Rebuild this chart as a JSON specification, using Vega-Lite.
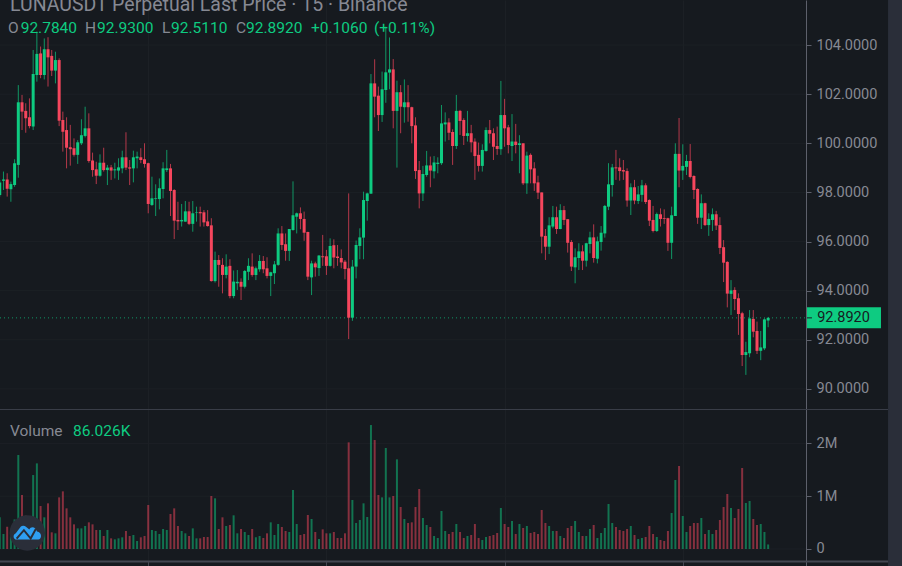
{
  "$schema": "https://vega.github.io/schema/vega-lite/v6.json",
  "width": 902,
  "height": 566,
  "autosize": {"type": "none"},
  "padding": 0,
  "background": "#161a1f",
  "config": {"view": {"stroke": null}, "font": "Roboto"},
  "datasets": {
    "candles": [
      {"i":0,"o":97.90,"h":98.51,"l":97.83,"c":98.40,"v":600000,"dir":"u"},
      {"i":1,"o":98.48,"h":98.85,"l":98.10,"c":98.53,"v":284000,"dir":"u"},
      {"i":2,"o":98.53,"h":98.78,"l":97.83,"c":98.15,"v":423000,"dir":"d"},
      {"i":3,"o":98.13,"h":98.44,"l":97.62,"c":98.34,"v":250000,"dir":"u"},
      {"i":4,"o":98.30,"h":99.35,"l":98.23,"c":99.19,"v":560000,"dir":"u"},
      {"i":5,"o":99.12,"h":102.37,"l":98.60,"c":101.67,"v":1780000,"dir":"u"},
      {"i":6,"o":101.67,"h":101.97,"l":100.54,"c":101.29,"v":1023000,"dir":"d"},
      {"i":7,"o":101.32,"h":101.63,"l":100.43,"c":101.02,"v":631000,"dir":"d"},
      {"i":8,"o":101.06,"h":101.83,"l":100.61,"c":100.70,"v":568000,"dir":"d"},
      {"i":9,"o":100.68,"h":103.80,"l":100.54,"c":102.82,"v":1401000,"dir":"u"},
      {"i":10,"o":102.78,"h":104.55,"l":102.51,"c":103.64,"v":1622000,"dir":"u"},
      {"i":11,"o":103.66,"h":103.94,"l":102.65,"c":102.78,"v":814000,"dir":"d"},
      {"i":12,"o":102.78,"h":104.27,"l":102.60,"c":103.83,"v":600000,"dir":"u"},
      {"i":13,"o":103.83,"h":104.32,"l":102.31,"c":103.50,"v":865000,"dir":"d"},
      {"i":14,"o":103.56,"h":103.80,"l":102.74,"c":102.96,"v":316000,"dir":"d"},
      {"i":15,"o":102.96,"h":103.73,"l":102.44,"c":103.39,"v":297000,"dir":"u"},
      {"i":16,"o":103.39,"h":103.46,"l":100.70,"c":100.92,"v":978000,"dir":"d"},
      {"i":17,"o":100.95,"h":101.29,"l":99.66,"c":100.47,"v":1092000,"dir":"d"},
      {"i":18,"o":100.54,"h":101.06,"l":98.98,"c":99.82,"v":770000,"dir":"d"},
      {"i":19,"o":99.84,"h":100.75,"l":99.09,"c":99.76,"v":600000,"dir":"d"},
      {"i":20,"o":99.80,"h":100.20,"l":99.46,"c":99.53,"v":467000,"dir":"d"},
      {"i":21,"o":99.53,"h":100.13,"l":99.16,"c":100.04,"v":391000,"dir":"u"},
      {"i":22,"o":100.00,"h":100.98,"l":99.93,"c":100.33,"v":391000,"dir":"u"},
      {"i":23,"o":100.30,"h":101.49,"l":100.24,"c":100.61,"v":436000,"dir":"u"},
      {"i":24,"o":100.61,"h":101.22,"l":99.21,"c":99.28,"v":505000,"dir":"d"},
      {"i":25,"o":99.30,"h":99.62,"l":98.64,"c":98.91,"v":467000,"dir":"d"},
      {"i":26,"o":98.94,"h":99.25,"l":98.34,"c":98.68,"v":360000,"dir":"d"},
      {"i":27,"o":98.68,"h":99.55,"l":98.64,"c":99.21,"v":360000,"dir":"u"},
      {"i":28,"o":99.21,"h":99.82,"l":98.85,"c":98.91,"v":246000,"dir":"d"},
      {"i":29,"o":98.91,"h":99.12,"l":98.30,"c":99.01,"v":360000,"dir":"u"},
      {"i":30,"o":99.02,"h":99.12,"l":98.51,"c":98.89,"v":202000,"dir":"d"},
      {"i":31,"o":98.90,"h":99.21,"l":98.57,"c":98.94,"v":183000,"dir":"u"},
      {"i":32,"o":98.89,"h":99.39,"l":98.51,"c":99.02,"v":202000,"dir":"u"},
      {"i":33,"o":98.98,"h":99.70,"l":98.78,"c":99.43,"v":221000,"dir":"u"},
      {"i":34,"o":99.43,"h":100.45,"l":98.91,"c":99.01,"v":341000,"dir":"d"},
      {"i":35,"o":99.02,"h":99.32,"l":98.30,"c":98.97,"v":246000,"dir":"d"},
      {"i":36,"o":98.98,"h":99.70,"l":98.41,"c":99.43,"v":265000,"dir":"u"},
      {"i":37,"o":99.39,"h":99.66,"l":98.98,"c":99.46,"v":152000,"dir":"u"},
      {"i":38,"o":99.43,"h":99.80,"l":99.19,"c":99.32,"v":221000,"dir":"d"},
      {"i":39,"o":99.35,"h":100.00,"l":99.01,"c":99.16,"v":246000,"dir":"d"},
      {"i":40,"o":99.19,"h":99.21,"l":97.15,"c":97.53,"v":833000,"dir":"d"},
      {"i":41,"o":97.49,"h":98.64,"l":97.45,"c":97.76,"v":360000,"dir":"u"},
      {"i":42,"o":97.73,"h":98.33,"l":97.04,"c":97.76,"v":341000,"dir":"u"},
      {"i":43,"o":97.73,"h":98.57,"l":97.31,"c":98.17,"v":284000,"dir":"u"},
      {"i":44,"o":98.14,"h":99.23,"l":97.76,"c":98.98,"v":379000,"dir":"u"},
      {"i":45,"o":98.91,"h":99.73,"l":98.83,"c":98.98,"v":360000,"dir":"u"},
      {"i":46,"o":98.98,"h":99.16,"l":97.04,"c":98.06,"v":663000,"dir":"d"},
      {"i":47,"o":98.10,"h":98.13,"l":96.10,"c":96.85,"v":770000,"dir":"d"},
      {"i":48,"o":96.88,"h":97.62,"l":96.47,"c":96.82,"v":436000,"dir":"d"},
      {"i":49,"o":96.82,"h":97.53,"l":96.61,"c":96.88,"v":341000,"dir":"u"},
      {"i":50,"o":96.81,"h":97.65,"l":96.81,"c":97.23,"v":297000,"dir":"u"},
      {"i":51,"o":97.23,"h":97.62,"l":96.67,"c":96.72,"v":246000,"dir":"d"},
      {"i":52,"o":96.72,"h":97.65,"l":96.40,"c":97.15,"v":391000,"dir":"u"},
      {"i":53,"o":97.18,"h":97.42,"l":96.81,"c":97.20,"v":202000,"dir":"u"},
      {"i":54,"o":97.20,"h":97.42,"l":96.61,"c":97.15,"v":202000,"dir":"d"},
      {"i":55,"o":97.19,"h":97.28,"l":96.61,"c":96.78,"v":227000,"dir":"d"},
      {"i":56,"o":96.82,"h":97.28,"l":96.61,"c":96.63,"v":227000,"dir":"d"},
      {"i":57,"o":96.66,"h":96.95,"l":94.37,"c":94.39,"v":1004000,"dir":"d"},
      {"i":58,"o":94.39,"h":95.59,"l":94.33,"c":95.25,"v":960000,"dir":"u"},
      {"i":59,"o":95.25,"h":95.45,"l":94.16,"c":95.05,"v":379000,"dir":"d"},
      {"i":60,"o":95.05,"h":95.32,"l":93.89,"c":94.64,"v":600000,"dir":"d"},
      {"i":61,"o":94.64,"h":95.48,"l":94.50,"c":94.98,"v":436000,"dir":"u"},
      {"i":62,"o":95.01,"h":95.28,"l":93.69,"c":93.78,"v":455000,"dir":"d"},
      {"i":63,"o":93.78,"h":94.82,"l":93.69,"c":94.37,"v":638000,"dir":"u"},
      {"i":64,"o":94.30,"h":94.84,"l":94.03,"c":94.36,"v":297000,"dir":"u"},
      {"i":65,"o":94.36,"h":94.50,"l":93.62,"c":94.16,"v":379000,"dir":"d"},
      {"i":66,"o":94.16,"h":94.84,"l":94.09,"c":94.80,"v":322000,"dir":"u"},
      {"i":67,"o":94.77,"h":95.32,"l":94.43,"c":95.01,"v":265000,"dir":"u"},
      {"i":68,"o":94.98,"h":95.52,"l":94.57,"c":94.64,"v":379000,"dir":"d"},
      {"i":69,"o":94.64,"h":94.98,"l":94.43,"c":94.91,"v":221000,"dir":"u"},
      {"i":70,"o":94.87,"h":95.45,"l":94.77,"c":95.21,"v":246000,"dir":"u"},
      {"i":71,"o":95.21,"h":95.41,"l":94.71,"c":94.87,"v":208000,"dir":"d"},
      {"i":72,"o":94.91,"h":95.36,"l":94.50,"c":94.60,"v":297000,"dir":"d"},
      {"i":73,"o":94.60,"h":94.77,"l":93.78,"c":94.75,"v":505000,"dir":"u"},
      {"i":74,"o":94.71,"h":95.21,"l":94.27,"c":95.07,"v":265000,"dir":"u"},
      {"i":75,"o":95.05,"h":96.54,"l":95.01,"c":96.33,"v":473000,"dir":"u"},
      {"i":76,"o":96.33,"h":96.63,"l":95.66,"c":95.86,"v":417000,"dir":"d"},
      {"i":77,"o":95.89,"h":96.33,"l":95.22,"c":95.62,"v":341000,"dir":"d"},
      {"i":78,"o":95.62,"h":96.51,"l":95.21,"c":96.51,"v":322000,"dir":"u"},
      {"i":79,"o":96.47,"h":98.45,"l":96.44,"c":97.07,"v":1117000,"dir":"u"},
      {"i":80,"o":97.01,"h":97.18,"l":96.33,"c":97.15,"v":473000,"dir":"u"},
      {"i":81,"o":97.15,"h":97.39,"l":96.50,"c":96.92,"v":265000,"dir":"d"},
      {"i":82,"o":96.92,"h":97.22,"l":96.03,"c":96.36,"v":284000,"dir":"d"},
      {"i":83,"o":96.39,"h":96.40,"l":94.43,"c":94.57,"v":644000,"dir":"d"},
      {"i":84,"o":94.54,"h":95.22,"l":93.82,"c":95.11,"v":568000,"dir":"u"},
      {"i":85,"o":95.11,"h":95.18,"l":94.57,"c":94.95,"v":322000,"dir":"d"},
      {"i":86,"o":94.92,"h":95.45,"l":94.60,"c":95.43,"v":189000,"dir":"u"},
      {"i":87,"o":95.40,"h":96.27,"l":95.01,"c":95.36,"v":372000,"dir":"d"},
      {"i":88,"o":95.40,"h":95.66,"l":94.64,"c":95.01,"v":297000,"dir":"d"},
      {"i":89,"o":95.01,"h":96.13,"l":94.98,"c":95.82,"v":297000,"dir":"u"},
      {"i":90,"o":95.85,"h":96.09,"l":94.91,"c":95.35,"v":322000,"dir":"d"},
      {"i":91,"o":95.39,"h":95.86,"l":95.01,"c":95.33,"v":208000,"dir":"d"},
      {"i":92,"o":95.33,"h":95.68,"l":94.91,"c":95.15,"v":208000,"dir":"d"},
      {"i":93,"o":95.18,"h":95.25,"l":94.46,"c":94.88,"v":297000,"dir":"d"},
      {"i":94,"o":94.91,"h":97.96,"l":92.03,"c":92.90,"v":2020000,"dir":"d"},
      {"i":95,"o":92.90,"h":95.25,"l":92.77,"c":94.98,"v":928000,"dir":"u"},
      {"i":96,"o":94.98,"h":96.04,"l":94.50,"c":95.86,"v":492000,"dir":"u"},
      {"i":97,"o":95.82,"h":96.54,"l":95.28,"c":96.17,"v":549000,"dir":"u"},
      {"i":98,"o":96.16,"h":98.03,"l":95.28,"c":97.69,"v":865000,"dir":"u"},
      {"i":99,"o":97.65,"h":97.99,"l":96.85,"c":97.96,"v":606000,"dir":"u"},
      {"i":100,"o":97.95,"h":102.82,"l":97.94,"c":102.44,"v":2348000,"dir":"u"},
      {"i":101,"o":102.44,"h":103.42,"l":101.06,"c":101.90,"v":2064000,"dir":"d"},
      {"i":102,"o":101.94,"h":102.31,"l":100.50,"c":101.15,"v":1023000,"dir":"d"},
      {"i":103,"o":101.15,"h":102.92,"l":100.87,"c":102.20,"v":978000,"dir":"u"},
      {"i":104,"o":102.17,"h":104.75,"l":101.65,"c":102.89,"v":1913000,"dir":"u"},
      {"i":105,"o":102.88,"h":104.31,"l":102.20,"c":103.01,"v":978000,"dir":"u"},
      {"i":106,"o":103.01,"h":103.43,"l":100.61,"c":101.32,"v":1004000,"dir":"d"},
      {"i":107,"o":101.32,"h":102.55,"l":99.01,"c":102.08,"v":1698000,"dir":"u"},
      {"i":108,"o":102.08,"h":102.37,"l":100.41,"c":101.49,"v":795000,"dir":"d"},
      {"i":109,"o":101.47,"h":102.60,"l":100.84,"c":101.67,"v":568000,"dir":"u"},
      {"i":110,"o":101.67,"h":102.37,"l":100.88,"c":101.47,"v":492000,"dir":"d"},
      {"i":111,"o":101.47,"h":101.49,"l":100.00,"c":100.70,"v":505000,"dir":"d"},
      {"i":112,"o":100.73,"h":101.06,"l":98.55,"c":98.87,"v":795000,"dir":"d"},
      {"i":113,"o":98.91,"h":99.28,"l":97.35,"c":97.96,"v":1136000,"dir":"d"},
      {"i":114,"o":97.96,"h":99.08,"l":97.65,"c":98.75,"v":587000,"dir":"u"},
      {"i":115,"o":98.71,"h":99.69,"l":98.64,"c":99.10,"v":455000,"dir":"u"},
      {"i":116,"o":99.10,"h":99.46,"l":98.21,"c":98.89,"v":417000,"dir":"d"},
      {"i":117,"o":98.86,"h":99.48,"l":98.57,"c":99.22,"v":246000,"dir":"u"},
      {"i":118,"o":99.16,"h":99.43,"l":98.78,"c":99.21,"v":208000,"dir":"u"},
      {"i":119,"o":99.19,"h":101.56,"l":99.12,"c":100.81,"v":720000,"dir":"u"},
      {"i":120,"o":100.77,"h":101.26,"l":100.07,"c":100.85,"v":341000,"dir":"u"},
      {"i":121,"o":100.85,"h":101.02,"l":100.13,"c":100.43,"v":284000,"dir":"d"},
      {"i":122,"o":100.46,"h":100.57,"l":99.12,"c":99.89,"v":322000,"dir":"d"},
      {"i":123,"o":99.89,"h":101.97,"l":99.77,"c":101.32,"v":473000,"dir":"u"},
      {"i":124,"o":101.32,"h":101.36,"l":100.34,"c":100.91,"v":322000,"dir":"d"},
      {"i":125,"o":100.95,"h":101.02,"l":99.93,"c":100.30,"v":208000,"dir":"d"},
      {"i":126,"o":100.30,"h":101.32,"l":100.07,"c":100.41,"v":246000,"dir":"u"},
      {"i":127,"o":100.41,"h":100.75,"l":99.63,"c":100.04,"v":265000,"dir":"d"},
      {"i":128,"o":100.07,"h":100.20,"l":98.51,"c":99.48,"v":473000,"dir":"d"},
      {"i":129,"o":99.53,"h":100.03,"l":98.85,"c":99.08,"v":208000,"dir":"d"},
      {"i":130,"o":99.08,"h":99.96,"l":98.85,"c":99.73,"v":170000,"dir":"u"},
      {"i":131,"o":99.69,"h":100.65,"l":99.66,"c":100.54,"v":227000,"dir":"u"},
      {"i":132,"o":100.54,"h":100.95,"l":100.00,"c":100.39,"v":246000,"dir":"d"},
      {"i":133,"o":100.41,"h":100.61,"l":99.32,"c":99.86,"v":265000,"dir":"d"},
      {"i":134,"o":99.89,"h":100.68,"l":99.53,"c":99.77,"v":303000,"dir":"d"},
      {"i":135,"o":99.76,"h":102.54,"l":99.53,"c":101.15,"v":777000,"dir":"u"},
      {"i":136,"o":101.15,"h":101.81,"l":99.86,"c":100.61,"v":473000,"dir":"d"},
      {"i":137,"o":100.65,"h":100.75,"l":99.59,"c":99.93,"v":417000,"dir":"d"},
      {"i":138,"o":99.89,"h":101.19,"l":99.28,"c":100.07,"v":530000,"dir":"u"},
      {"i":139,"o":100.07,"h":100.79,"l":99.59,"c":99.93,"v":284000,"dir":"d"},
      {"i":140,"o":99.93,"h":100.33,"l":98.78,"c":100.00,"v":473000,"dir":"u"},
      {"i":141,"o":100.00,"h":100.00,"l":98.30,"c":98.37,"v":398000,"dir":"d"},
      {"i":142,"o":98.37,"h":99.66,"l":97.94,"c":99.50,"v":436000,"dir":"u"},
      {"i":143,"o":99.53,"h":99.59,"l":98.37,"c":98.94,"v":303000,"dir":"d"},
      {"i":144,"o":98.98,"h":99.23,"l":98.06,"c":98.37,"v":322000,"dir":"d"},
      {"i":145,"o":98.41,"h":98.68,"l":97.73,"c":97.99,"v":284000,"dir":"d"},
      {"i":146,"o":98.00,"h":98.00,"l":95.52,"c":96.20,"v":739000,"dir":"d"},
      {"i":147,"o":96.23,"h":96.51,"l":95.25,"c":95.79,"v":492000,"dir":"d"},
      {"i":148,"o":95.79,"h":96.99,"l":95.49,"c":96.66,"v":436000,"dir":"u"},
      {"i":149,"o":96.61,"h":97.45,"l":96.54,"c":96.99,"v":341000,"dir":"u"},
      {"i":150,"o":96.99,"h":97.42,"l":96.31,"c":96.51,"v":341000,"dir":"d"},
      {"i":151,"o":96.51,"h":97.52,"l":96.50,"c":97.28,"v":246000,"dir":"u"},
      {"i":152,"o":97.28,"h":97.45,"l":96.67,"c":96.88,"v":208000,"dir":"d"},
      {"i":153,"o":96.91,"h":96.91,"l":95.55,"c":95.95,"v":398000,"dir":"d"},
      {"i":154,"o":95.98,"h":96.06,"l":94.80,"c":94.98,"v":436000,"dir":"d"},
      {"i":155,"o":94.95,"h":95.72,"l":94.30,"c":95.36,"v":530000,"dir":"u"},
      {"i":156,"o":95.33,"h":95.93,"l":94.84,"c":95.60,"v":322000,"dir":"u"},
      {"i":157,"o":95.60,"h":95.85,"l":94.84,"c":95.22,"v":246000,"dir":"d"},
      {"i":158,"o":95.22,"h":95.95,"l":94.98,"c":95.93,"v":246000,"dir":"u"},
      {"i":159,"o":95.90,"h":96.40,"l":95.52,"c":96.17,"v":379000,"dir":"u"},
      {"i":160,"o":96.17,"h":96.70,"l":95.14,"c":95.33,"v":455000,"dir":"d"},
      {"i":161,"o":95.30,"h":96.20,"l":95.11,"c":96.01,"v":208000,"dir":"u"},
      {"i":162,"o":95.98,"h":96.63,"l":95.63,"c":96.36,"v":303000,"dir":"u"},
      {"i":163,"o":96.33,"h":97.49,"l":96.16,"c":97.45,"v":398000,"dir":"u"},
      {"i":164,"o":97.42,"h":99.19,"l":97.28,"c":98.33,"v":852000,"dir":"u"},
      {"i":165,"o":98.30,"h":99.16,"l":97.83,"c":99.02,"v":492000,"dir":"u"},
      {"i":166,"o":99.02,"h":99.73,"l":98.51,"c":98.98,"v":417000,"dir":"d"},
      {"i":167,"o":99.02,"h":99.39,"l":98.48,"c":98.87,"v":360000,"dir":"d"},
      {"i":168,"o":98.91,"h":99.32,"l":98.51,"c":98.85,"v":341000,"dir":"d"},
      {"i":169,"o":98.87,"h":98.98,"l":97.42,"c":97.67,"v":379000,"dir":"d"},
      {"i":170,"o":97.67,"h":98.37,"l":97.08,"c":98.21,"v":436000,"dir":"u"},
      {"i":171,"o":98.21,"h":98.51,"l":97.52,"c":97.67,"v":265000,"dir":"d"},
      {"i":172,"o":97.65,"h":98.26,"l":97.53,"c":97.92,"v":189000,"dir":"u"},
      {"i":173,"o":97.90,"h":98.51,"l":97.62,"c":98.29,"v":208000,"dir":"u"},
      {"i":174,"o":98.29,"h":98.37,"l":97.53,"c":97.61,"v":227000,"dir":"d"},
      {"i":175,"o":97.69,"h":97.72,"l":96.63,"c":96.85,"v":436000,"dir":"d"},
      {"i":176,"o":96.88,"h":97.45,"l":96.37,"c":96.43,"v":284000,"dir":"d"},
      {"i":177,"o":96.43,"h":97.18,"l":96.39,"c":97.12,"v":227000,"dir":"u"},
      {"i":178,"o":97.11,"h":97.35,"l":96.61,"c":96.92,"v":170000,"dir":"d"},
      {"i":179,"o":96.95,"h":97.31,"l":96.72,"c":96.92,"v":152000,"dir":"d"},
      {"i":180,"o":96.95,"h":96.97,"l":95.62,"c":95.95,"v":341000,"dir":"d"},
      {"i":181,"o":95.95,"h":97.42,"l":95.29,"c":97.07,"v":682000,"dir":"u"},
      {"i":182,"o":97.04,"h":100.00,"l":97.04,"c":99.57,"v":1307000,"dir":"u"},
      {"i":183,"o":99.57,"h":101.03,"l":98.21,"c":98.89,"v":1572000,"dir":"d"},
      {"i":184,"o":98.89,"h":99.96,"l":98.51,"c":99.08,"v":625000,"dir":"u"},
      {"i":185,"o":99.04,"h":99.53,"l":98.71,"c":99.28,"v":322000,"dir":"u"},
      {"i":186,"o":99.28,"h":99.97,"l":98.57,"c":98.63,"v":436000,"dir":"d"},
      {"i":187,"o":98.67,"h":98.70,"l":97.73,"c":98.10,"v":492000,"dir":"d"},
      {"i":188,"o":98.14,"h":98.17,"l":96.72,"c":96.97,"v":492000,"dir":"d"},
      {"i":189,"o":96.97,"h":97.92,"l":96.51,"c":97.56,"v":587000,"dir":"u"},
      {"i":190,"o":97.56,"h":97.58,"l":96.63,"c":96.67,"v":284000,"dir":"d"},
      {"i":191,"o":96.67,"h":97.15,"l":96.23,"c":96.92,"v":360000,"dir":"u"},
      {"i":192,"o":96.88,"h":97.35,"l":96.43,"c":97.11,"v":284000,"dir":"u"},
      {"i":193,"o":97.11,"h":97.25,"l":96.47,"c":96.65,"v":360000,"dir":"d"},
      {"i":194,"o":96.67,"h":96.99,"l":95.49,"c":95.74,"v":549000,"dir":"d"},
      {"i":195,"o":95.77,"h":96.06,"l":94.35,"c":95.14,"v":795000,"dir":"d"},
      {"i":196,"o":95.17,"h":95.20,"l":93.32,"c":93.88,"v":1042000,"dir":"d"},
      {"i":197,"o":93.87,"h":94.43,"l":93.01,"c":94.01,"v":777000,"dir":"u"},
      {"i":198,"o":94.03,"h":94.14,"l":93.21,"c":93.66,"v":587000,"dir":"d"},
      {"i":199,"o":93.69,"h":93.89,"l":92.20,"c":93.05,"v":758000,"dir":"d"},
      {"i":200,"o":93.08,"h":93.14,"l":90.93,"c":91.38,"v":1534000,"dir":"d"},
      {"i":201,"o":91.38,"h":91.92,"l":90.57,"c":91.50,"v":871000,"dir":"u"},
      {"i":202,"o":91.45,"h":93.21,"l":91.29,"c":92.87,"v":909000,"dir":"u"},
      {"i":203,"o":92.85,"h":93.21,"l":92.10,"c":92.33,"v":568000,"dir":"d"},
      {"i":204,"o":92.36,"h":92.74,"l":91.42,"c":91.55,"v":455000,"dir":"d"},
      {"i":205,"o":91.55,"h":92.36,"l":91.17,"c":91.69,"v":473000,"dir":"u"},
      {"i":206,"o":91.65,"h":92.87,"l":91.58,"c":92.83,"v":322000,"dir":"u"},
      {"i":207,"o":92.784,"h":92.93,"l":92.511,"c":92.892,"v":86026,"dir":"u"}
    ],
    "priceGrid": [
      {"p":90,"i":0.067,"i2":217.2},{"p":92,"i":0.067,"i2":217.2},{"p":94,"i":0.067,"i2":217.2},{"p":96,"i":0.067,"i2":217.2},
      {"p":98,"i":0.067,"i2":217.2},{"p":100,"i":0.067,"i2":217.2},{"p":102,"i":0.067,"i2":217.2},{"p":104,"i":0.067,"i2":217.2}
    ],
    "volGrid": [
      {"v":0,"i":0.067,"i2":217.2},{"v":1000000,"i":0.067,"i2":217.2},{"v":2000000,"i":0.067,"i2":217.2}
    ],
    "legend": [
      {"t":"O","i":2.22,"p":104.7,"dir":"m"},
      {"t":"92.7840","i":5.64,"p":104.7,"dir":"u"},
      {"t":"H","i":22.97,"p":104.7,"dir":"m"},
      {"t":"92.9300","i":26.2,"p":104.7,"dir":"u"},
      {"t":"L","i":43.71,"p":104.7,"dir":"m"},
      {"t":"92.5110","i":46.15,"p":104.7,"dir":"u"},
      {"t":"C","i":63.64,"p":104.7,"dir":"m"},
      {"t":"92.8920","i":66.34,"p":104.7,"dir":"u"},
      {"t":"+0.1060","i":83.85,"p":104.7,"dir":"u"},
      {"t":"(+0.11%)","i":100.82,"p":104.7,"dir":"u"},
      {"t":"Volume","i":2.76,"p":88.3,"dir":"m"},
      {"t":"86.026K","i":19.73,"p":88.3,"dir":"u"}
    ]
  },
  "encoding": {
    "x": {
      "field": "i",
      "type": "quantitative",
      "title": null,
      "scale": {"domain": [0.067, 243.06], "nice": false, "zero": false, "padding": 0},
      "axis": {"values": [40, 88, 136, 184], "labels": false, "domain": false, "grid": true, "gridColor": "#1c2025", "tickColor": "#434651", "tickSize": -5}
    }
  },
  "layer": [
    {
      "layer": [
        {
          "data": {"values": [{"i": 239.3, "i2": 243.06, "p": 105.835, "p2": 82.789}]},
          "mark": {"type": "rect", "color": "#2a2e39"},
          "encoding": {
            "x2": {"field": "i2"},
            "y": {"field": "p", "type": "quantitative", "title": null, "scale": {"domain": [82.789, 105.835], "nice": false, "zero": false}, "axis": {"values": [90, 92, 94, 96, 98, 100, 102, 104], "format": ".4f", "orient": "right", "offset": -96, "grid": false, "domainColor": "#5d606b", "tickColor": "#5d606b", "tickSize": 5, "labelColor": "#868993", "labelFontSize": 14.5, "labelPadding": 5}},
            "y2": {"field": "p2"}
          }
        },
        {
          "data": {"name": "priceGrid"},
          "mark": {"type": "rule", "color": "#1c2025"},
          "encoding": {
            "x2": {"field": "i2"},
            "y": {"field": "p", "type": "quantitative", "title": null, "scale": {"domain": [82.789, 105.835], "nice": false, "zero": false}}
          }
        },
        {
          "data": {"values": [{"i": 0.067, "i2": 239.3, "p": 89.16}]},
          "mark": {"type": "rule", "color": "#3a3e49", "strokeWidth": 1},
          "encoding": {
            "x2": {"field": "i2"},
            "y": {"field": "p", "type": "quantitative", "title": null, "scale": {"domain": [82.789, 105.835], "nice": false, "zero": false}}
          }
        },
        {
          "data": {"values": [{"i": 0.067, "i2": 239.3, "p": 82.97}]},
          "mark": {"type": "rule", "color": "#434651", "strokeWidth": 2},
          "encoding": {
            "x2": {"field": "i2"},
            "y": {"field": "p", "type": "quantitative", "title": null, "scale": {"domain": [82.789, 105.835], "nice": false, "zero": false}}
          }
        },
        {
          "data": {"values": [{"i": 0.067, "i2": 217.2, "p": 92.892}]},
          "mark": {"type": "rule", "color": "#0ecb81", "opacity": 0.7, "strokeDash": [1, 3]},
          "encoding": {
            "x2": {"field": "i2"},
            "y": {"field": "p", "type": "quantitative", "title": null, "scale": {"domain": [82.789, 105.835], "nice": false, "zero": false}}
          }
        },
        {
          "data": {"name": "candles"},
          "mark": {"type": "rule", "opacity": 0.7, "strokeWidth": 1},
          "encoding": {
            "y": {"field": "l", "type": "quantitative", "title": null, "scale": {"domain": [82.789, 105.835], "nice": false, "zero": false}},
            "y2": {"field": "h"},
            "color": {"field": "dir", "type": "nominal", "legend": null, "scale": {"domain": ["u", "d", "m"], "range": ["#0ecb81", "#f6465d", "#868993"]}}
          }
        },
        {
          "data": {"name": "candles"},
          "mark": {"type": "bar", "size": 3, "orient": "vertical"},
          "encoding": {
            "y": {"field": "o", "type": "quantitative", "title": null, "stack": null, "scale": {"domain": [82.789, 105.835], "nice": false, "zero": false}},
            "y2": {"field": "c"},
            "color": {"field": "dir", "type": "nominal", "legend": null, "scale": {"domain": ["u", "d", "m"], "range": ["#0ecb81", "#f6465d", "#868993"]}}
          }
        },
        {
          "data": {"values": [{"i": 217.47, "i2": 237.4, "p": 93.32, "p2": 92.47}]},
          "mark": {"type": "rect", "color": "#0ecb81"},
          "encoding": {
            "x2": {"field": "i2"},
            "y": {"field": "p", "type": "quantitative", "title": null, "scale": {"domain": [82.789, 105.835], "nice": false, "zero": false}},
            "y2": {"field": "p2"}
          }
        },
        {
          "data": {"values": [{"i": 217.47, "i2": 218.8, "p": 92.892}]},
          "mark": {"type": "rule", "color": "#161a1f"},
          "encoding": {
            "x2": {"field": "i2"},
            "y": {"field": "p", "type": "quantitative", "title": null, "scale": {"domain": [82.789, 105.835], "nice": false, "zero": false}}
          }
        },
        {
          "data": {"values": [{"i": 220.2, "p": 92.892, "t": "92.8920"}]},
          "mark": {"type": "text", "align": "left", "baseline": "middle", "fontSize": 14.5, "color": "#161a1f"},
          "encoding": {
            "y": {"field": "p", "type": "quantitative", "title": null, "scale": {"domain": [82.789, 105.835], "nice": false, "zero": false}},
            "text": {"field": "t"}
          }
        },
        {
          "data": {"values": [{"i": 220.2, "p": 106, "t": "106.0000"}]},
          "mark": {"type": "text", "align": "left", "baseline": "middle", "fontSize": 14.5, "color": "#868993", "clip": true},
          "encoding": {
            "y": {"field": "p", "type": "quantitative", "title": null, "scale": {"domain": [82.789, 105.835], "nice": false, "zero": false}},
            "text": {"field": "t"}
          }
        },
        {
          "data": {"values": [{"i": 2.76, "p": 105.65, "t": "LUNAUSDT Perpetual Last Price · 15 · Binance"}]},
          "mark": {"type": "text", "align": "left", "baseline": "middle", "fontSize": 19.5, "color": "#868993", "clip": true},
          "encoding": {
            "y": {"field": "p", "type": "quantitative", "title": null, "scale": {"domain": [82.789, 105.835], "nice": false, "zero": false}},
            "text": {"field": "t"}
          }
        },
        {
          "data": {"name": "legend"},
          "mark": {"type": "text", "align": "left", "baseline": "middle", "fontSize": 15.5},
          "encoding": {
            "y": {"field": "p", "type": "quantitative", "title": null, "scale": {"domain": [82.789, 105.835], "nice": false, "zero": false}},
            "text": {"field": "t"},
            "color": {"field": "dir", "type": "nominal", "legend": null, "scale": {"domain": ["u", "d", "m"], "range": ["#0ecb81", "#f6465d", "#868993"]}}
          }
        }
      ]
    },
    {
      "layer": [
        {
          "data": {"name": "volGrid"},
          "mark": {"type": "rule", "color": "#1c2025"},
          "encoding": {
            "x2": {"field": "i2"},
            "y": {"field": "v", "type": "quantitative", "title": null, "scale": {"domain": [-322000, 10398000], "nice": false, "zero": false}, "axis": {"values": [0, 1000000, 2000000], "labelExpr": "datum.value == 0 ? '0' : (datum.value / 1000000) + 'M'", "orient": "right", "offset": -96, "grid": false, "domain": false, "tickColor": "#5d606b", "tickSize": 5, "labelColor": "#868993", "labelFontSize": 14.5, "labelPadding": 5}}
          }
        },
        {
          "data": {"name": "candles"},
          "mark": {"type": "bar", "size": 2, "orient": "vertical", "opacity": 0.5},
          "encoding": {
            "y": {"field": "v", "type": "quantitative", "title": null, "stack": null, "scale": {"domain": [-322000, 10398000], "nice": false, "zero": false}},
            "color": {"field": "dir", "type": "nominal", "legend": null, "scale": {"domain": ["u", "d", "m"], "range": ["#0ecb81", "#f6465d", "#868993"]}}
          }
        },
        {
          "data": {"values": [{"i": 7.42, "v": 305000}]},
          "mark": {"type": "point", "shape": "circle", "filled": true, "size": 1257, "color": "#2a2e39", "opacity": 1},
          "encoding": {
            "y": {"field": "v", "type": "quantitative", "title": null, "scale": {"domain": [-322000, 10398000], "nice": false, "zero": false}}
          }
        },
        {
          "data": {"values": [{"i": 7.42, "v": 305000}]},
          "mark": {"type": "point", "shape": "M-0.79,0.49 C-1.05,0.49 -1.1,0.12 -0.85,0.02 L-0.49,-0.45 C-0.4,-0.55 -0.2,-0.55 -0.1,-0.45 L0.15,-0.25 C0.25,-0.5 0.6,-0.5 0.72,-0.1 C1.1,-0.05 1.1,0.49 0.81,0.49 Z", "filled": true, "size": 729, "color": "#2f9ff3", "opacity": 1},
          "encoding": {
            "y": {"field": "v", "type": "quantitative", "title": null, "scale": {"domain": [-322000, 10398000], "nice": false, "zero": false}}
          }
        },
        {
          "data": {"values": [{"i": 7.42, "v": 305000}]},
          "mark": {"type": "point", "shape": "M-0.79,0.42 L-0.25,-0.2 L0.25,0.42 L0.64,-0.3", "filled": false, "size": 729, "color": "#2a2e39", "strokeWidth": 2, "opacity": 1},
          "encoding": {
            "y": {"field": "v", "type": "quantitative", "title": null, "scale": {"domain": [-322000, 10398000], "nice": false, "zero": false}}
          }
        }
      ]
    }
  ],
  "resolve": {"scale": {"y": "independent"}, "axis": {"y": "independent"}}
}
